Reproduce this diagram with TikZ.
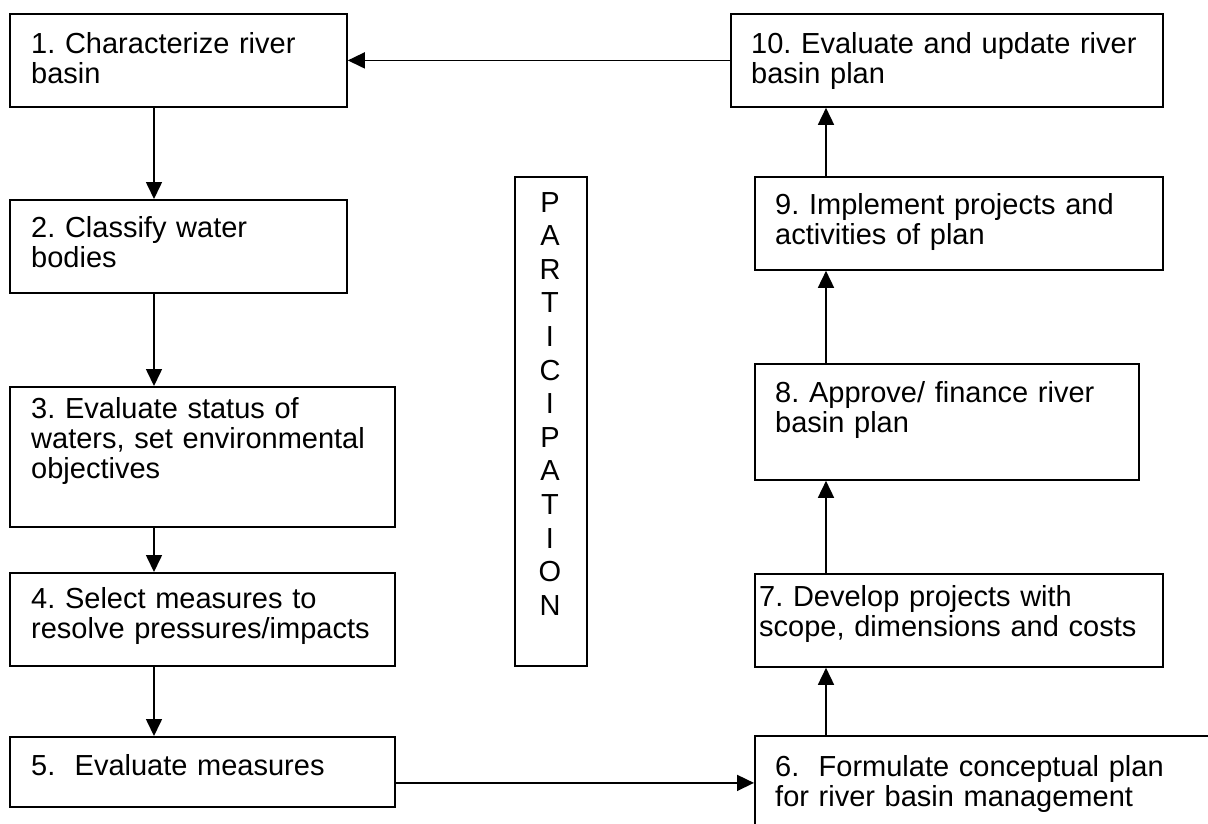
\documentclass[tikz,border=0pt]{standalone}
\usepackage{fontspec}
\setmainfont{Liberation Sans}
\usetikzlibrary{arrows.meta,calc}
\frenchspacing
\begin{document}
\begin{tikzpicture}[x=1pt,y=-1pt,
  box/.style={draw=black,line width=1.8pt,rectangle,inner sep=0pt,anchor=north west},
  txt/.style={anchor=base west,inner sep=0pt,text width=440pt,align=left,
    font=\fontsize{29}{30}\selectfont},
  arr/.style={draw=black,line width=1.6pt,-{Triangle[length=17pt,width=16pt]}}]
\path[use as bounding box] (0,0) rectangle (1208,823);
\clip (0,0) rectangle (1208,823);

% left column
\node[box,minimum width=337pt,minimum height=93pt] (b1) at (9,13) {};
\node[box,minimum width=337pt,minimum height=93pt] (b2) at (9,199) {};
\node[box,minimum width=385pt,minimum height=140pt] (b3) at (9,386) {};
\node[box,minimum width=385pt,minimum height=93pt] (b4) at (9,572) {};
\node[box,minimum width=385pt,minimum height=70pt] (b5) at (9,736) {};

% right column
\node[box,minimum width=500pt,minimum height=150pt] (b6) at (754,735) {};
\node[box,minimum width=408pt,minimum height=93pt] (b7) at (754,573) {};
\node[box,minimum width=384pt,minimum height=116pt] (b8) at (754,363) {};
\node[box,minimum width=408pt,minimum height=93pt] (b9) at (754,176) {};
\node[box,minimum width=432pt,minimum height=93pt] (b10) at (730,13) {};

% participation column
\node[box,minimum width=72pt,minimum height=489pt] (part) at (514,176) {};
\node[anchor=base,inner sep=0pt,text width=60pt,align=center,
  font=\fontsize{29}{33.6}\selectfont] (ptxt) at (550,212)
  {P\\A\\R\\T\\I\\C\\I\\P\\A\\T\\I\\O\\N};

% step texts
\node[txt] (t1) at (31,53) {1. Characterize river\\basin};
\node[txt] (t2) at (31,237) {2. Classify water\\bodies};
\node[txt] (t3) at (31,418) {3. Evaluate status of\\waters, set environmental\\objectives};
\node[txt] (t4) at (31,608) {4. Select measures to\\resolve pressures/impacts};
\node[txt] (t5) at (31,775) {5.\ \ Evaluate measures};
\node[txt] (t6) at (775,776) {6.\ \ Formulate conceptual plan\\for river basin management};
\node[txt] (t7) at (759,606) {7. Develop projects with\\scope, dimensions and costs};
\node[txt] (t8) at (775,402) {8. Approve/ finance river\\basin plan};
\node[txt] (t9) at (775,214) {9. Implement projects and\\activities of plan};
\node[txt] (t10) at (751,53) {10. Evaluate and update river\\basin plan};

% connectors
\draw[arr] ([xshift=145pt]b1.south west) -- ([xshift=145pt]b2.north west);
\draw[arr] ([xshift=145pt]b2.south west) -- ([xshift=145pt]b3.north west);
\draw[arr] ([xshift=145pt]b3.south west) -- ([xshift=145pt]b4.north west);
\draw[arr] ([xshift=145pt]b4.south west) -- ([xshift=145pt]b5.north west);
\coordinate (c56) at ($(b5.east)+(0,11)$);
\draw[arr] (c56) -- (c56 -| b6.west);
\draw[arr] ([xshift=72pt]b6.north west) -- ([xshift=72pt]b7.south west);
\draw[arr] ([xshift=72pt]b7.north west) -- ([xshift=72pt]b8.south west);
\draw[arr] ([xshift=72pt]b8.north west) -- ([xshift=72pt]b9.south west);
\draw[arr] ([xshift=72pt]b9.north west) -- ([xshift=96pt]b10.south west);
\draw[arr] (b10.west) -- (b1.east);
\end{tikzpicture}
\end{document}
